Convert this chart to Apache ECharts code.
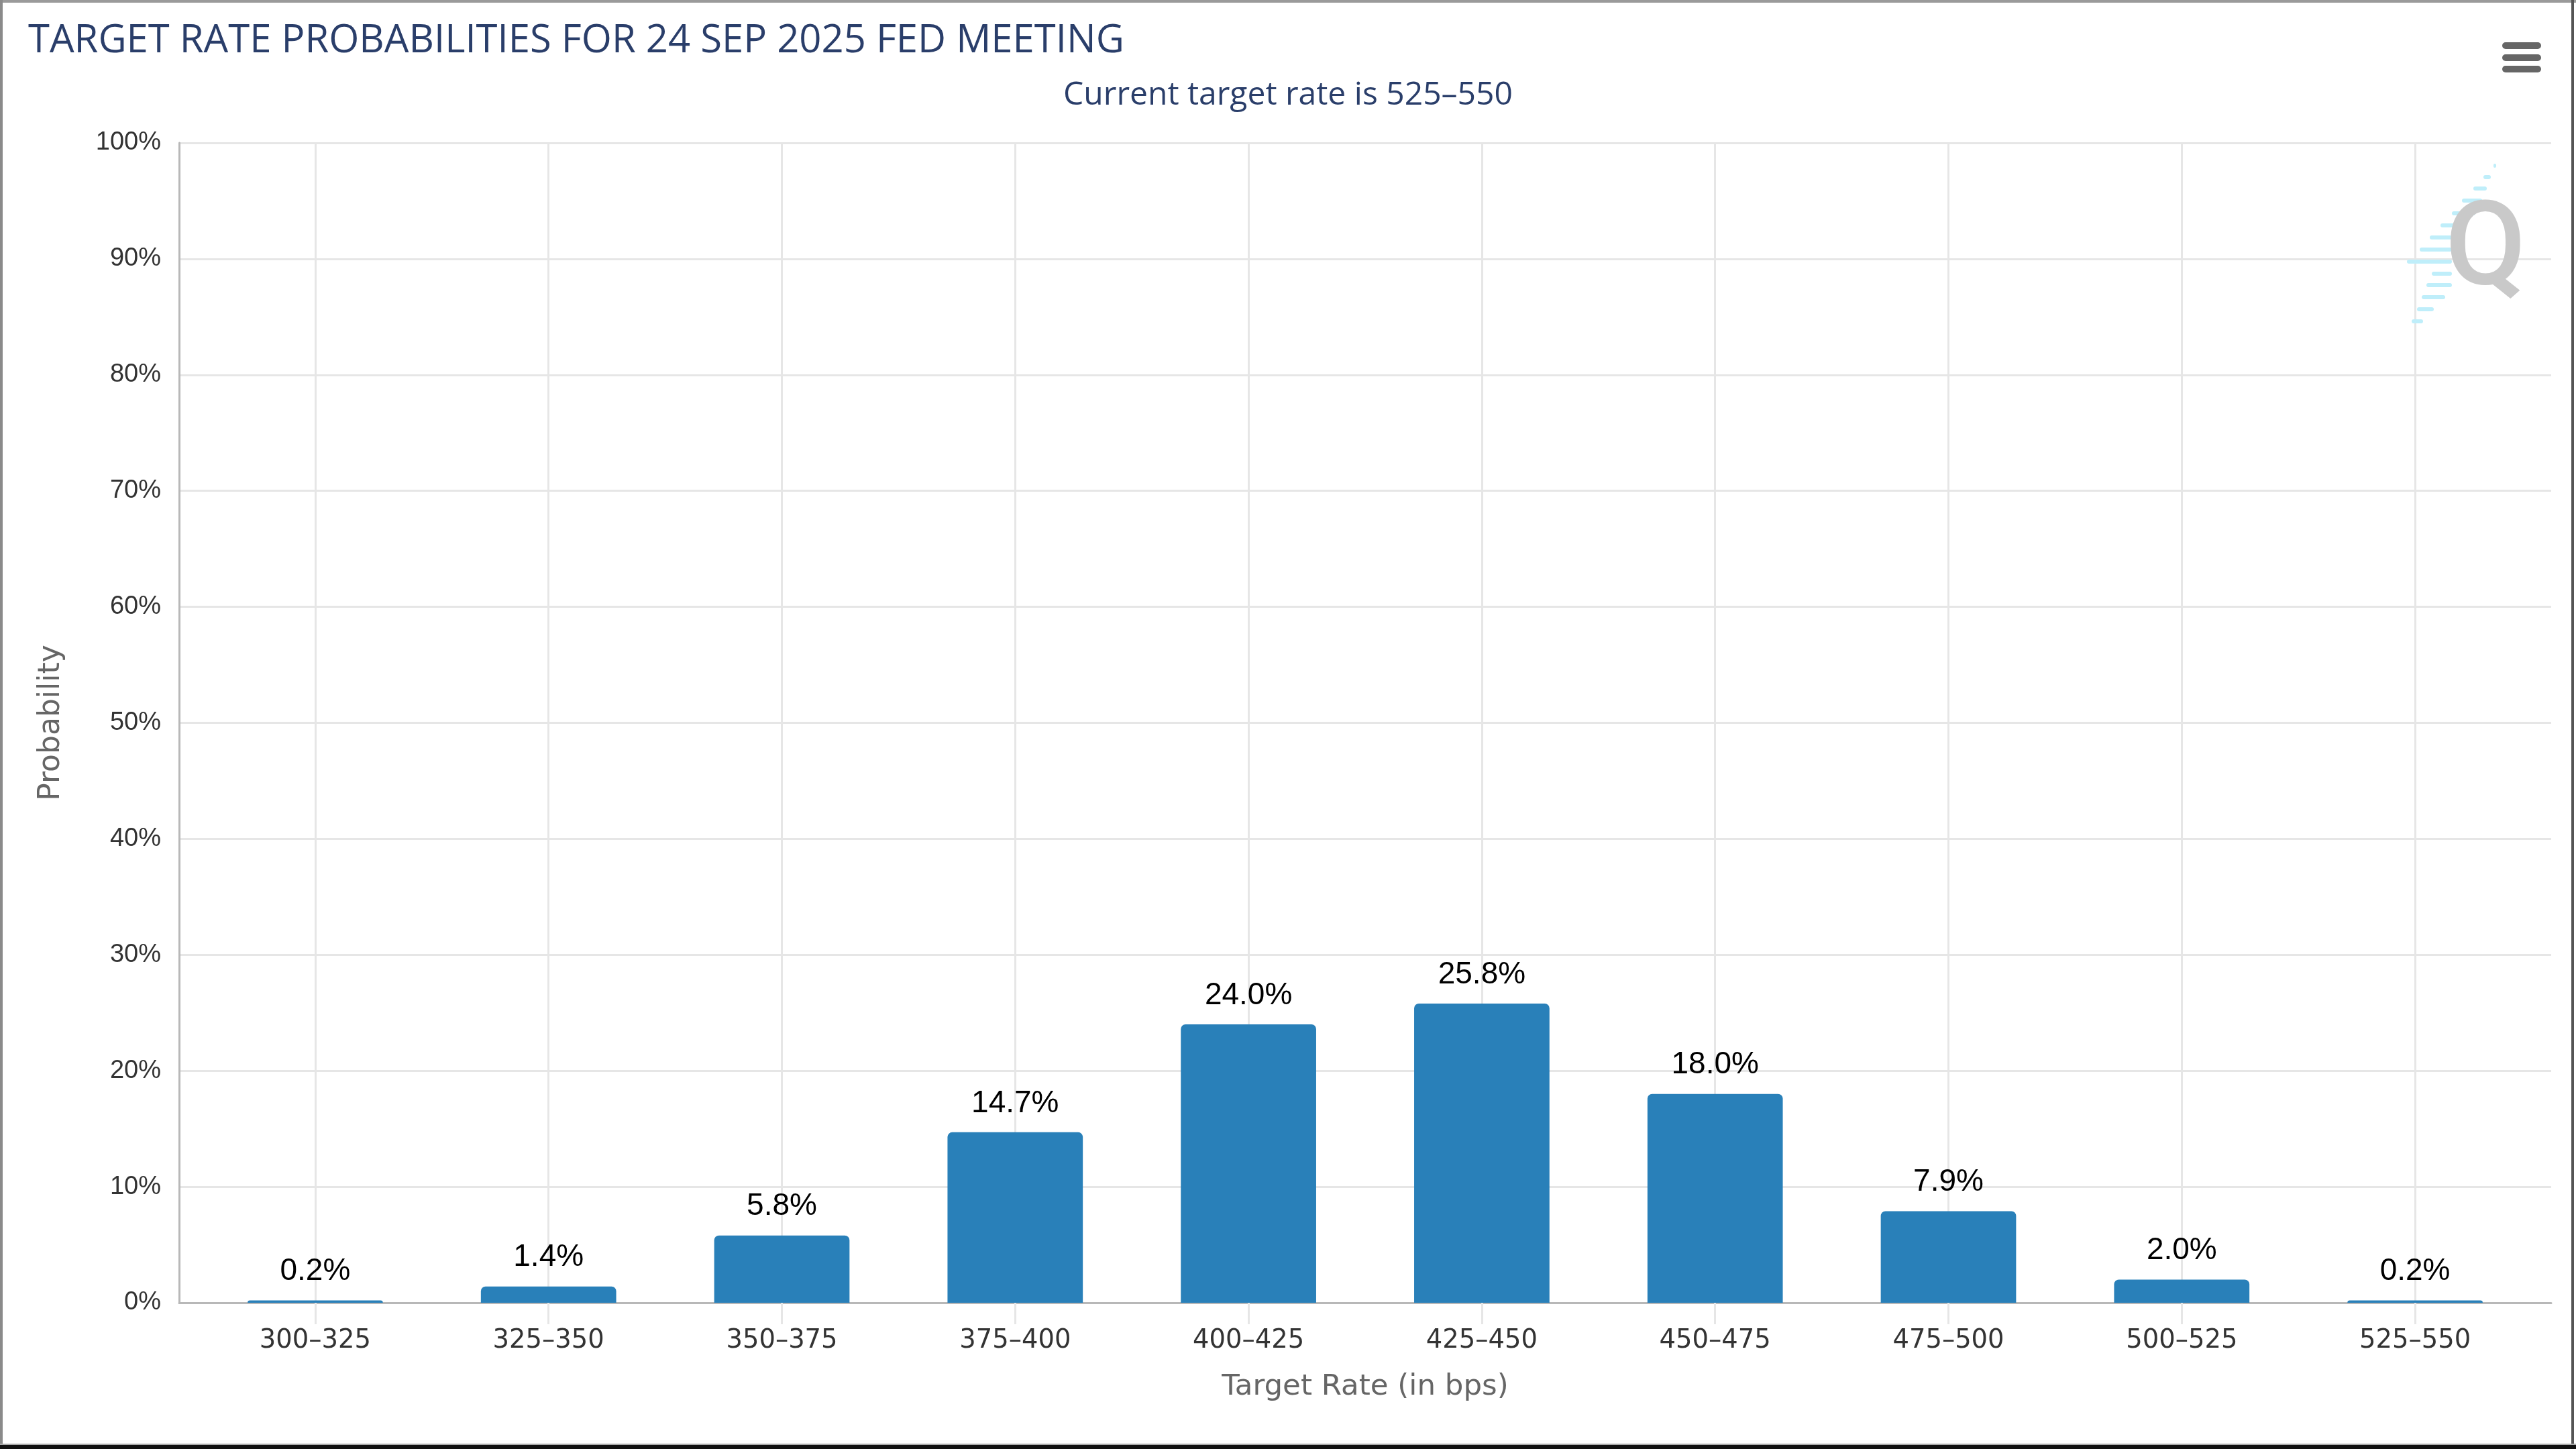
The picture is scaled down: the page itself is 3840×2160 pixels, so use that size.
<!DOCTYPE html>
<html>
<head>
<meta charset="utf-8">
<script src="https://cdn.jsdelivr.net/npm/echarts@6/dist/echarts.min.js"></script>
<style>
html,body{margin:0;padding:0;background:#fff;}
#chart{width:3840px;height:2160px;}
</style>
</head>
<body>
<div id="chart"></div>
<script>
// ---- data ----
const categories = ['300–325','325–350','350–375','375–400','400–425','425–450','450–475','475–500','500–525','525–550'];
const probabilities = [0.2, 1.4, 5.8, 14.7, 24.0, 25.8, 18.0, 7.9, 2.0, 0.2];
const titleText = 'TARGET RATE PROBABILITIES FOR 24 SEP 2025 FED MEETING';
const subtitleText = 'Current target rate is 525–550';
const xAxisName = 'Target Rate (in bps)';
const yAxisName = 'Probability';

const W = 3840, H = 2160;
const plotL = 267, plotR = 3803, plotT = 213, plotB = 1942;
const innerL = 296, innerR = 3774;
const catW = (innerR - innerL) / categories.length;

const chart = echarts.init(document.getElementById('chart'), null, {renderer: 'canvas'});

const gridColor = '#e6e6e6';
const axisColor = '#b8b8b8';

// watermark dashes (decoration)
const dashRows = [
  [247,3717,3721],[264,3702,3713],[281,3687,3707],[299,3670,3700],[318,3655,3690],
  [336,3638,3660],[354,3622,3655],[372,3607,3655],[390,3588,3655],[408,3625,3655],
  [425,3617,3655],[443,3610,3645],[461,3603,3628],[479,3595,3612]
];
const wm = dashRows.map(r => ({
  type: 'rect', shape: {x: r[1], y: r[0]-3, width: r[2]-r[1], height: 6, r: 3},
  style: {fill: '#bfeefa'}, z: 1, silent: true
}));

const option = {
  backgroundColor: '#fff',
  animation: false,
  title: [
    {text: titleText, left: 37, top: 27,
     textStyle: {fontFamily: 'Open Sans, sans-serif', fontSize: 58, fontWeight: 'normal', color: '#2a3e6a'}},
    {text: subtitleText, left: 'center', top: 113,
     textStyle: {fontFamily: 'Open Sans, sans-serif', fontSize: 48, fontWeight: 'normal', color: '#2a3e6a'}}
  ],
  grid: [
    {left: plotL, right: W - plotR, top: plotT, bottom: H - plotB, containLabel: false},
    {left: innerL, right: W - innerR, top: plotT, bottom: H - plotB, containLabel: false},
    {left: innerL + catW/2, right: W - innerR + catW/2, top: plotT, bottom: H - plotB, containLabel: false}
  ],
  xAxis: [
    {gridIndex: 0, type: 'value', min: 0, max: 1,
     axisLine: {show: true, onZero: false, lineStyle: {color: axisColor, width: 3}},
     axisTick: {show: false}, axisLabel: {show: false}, splitLine: {show: false}},
    {gridIndex: 1, type: 'category', data: categories, boundaryGap: true,
     axisLine: {show: false}, axisTick: {show: false}, splitLine: {show: false},
     axisLabel: {show: true, margin: 37, color: '#333',
       fontFamily: 'DejaVu Sans, sans-serif', fontSize: 38.5},
     name: xAxisName, nameLocation: 'middle', nameGap: 104,
     nameTextStyle: {color: '#666', fontFamily: 'DejaVu Sans, sans-serif', fontSize: 43.5}},
    {gridIndex: 2, type: 'category', data: categories, boundaryGap: false,
     axisLine: {show: false}, axisLabel: {show: false},
     axisTick: {show: true, length: 32, lineStyle: {color: gridColor, width: 3}},
     splitLine: {show: true, lineStyle: {color: gridColor, width: 3}}}
  ],
  yAxis: [
    {gridIndex: 0, type: 'value', min: 0, max: 100, interval: 10,
     axisLine: {show: true, lineStyle: {color: axisColor, width: 3}},
     axisTick: {show: false},
     axisLabel: {formatter: '{value}%', margin: 27, color: '#333',
       fontFamily: 'Liberation Sans Narrow, Liberation Sans, sans-serif', fontSize: 38},
     splitLine: {show: true, lineStyle: {color: gridColor, width: 3}},
     name: yAxisName, nameLocation: 'middle', nameGap: 168, nameRotate: 90,
     nameTextStyle: {color: '#666', fontFamily: 'DejaVu Sans, sans-serif', fontSize: 44}},
    {gridIndex: 1, type: 'value', min: 0, max: 100, show: false},
    {gridIndex: 2, type: 'value', min: 0, max: 100, show: false}
  ],
  series: [{
    type: 'bar', xAxisIndex: 1, yAxisIndex: 1,
    data: probabilities, barWidth: '58%', z: 3,
    itemStyle: {color: '#2980b9', borderRadius: [7, 7, 0, 0]},
    label: {show: true, position: 'top', distance: 20, color: '#000',
      fontFamily: 'Liberation Sans, Arial, sans-serif', fontSize: 46,
      formatter: p => p.value.toFixed(1) + '%'}
  }],
  graphic: [
    ...wm,
    {type: 'text', left: 3645, top: 292, z: 2, silent: true,
     style: {text: 'Q', fontFamily: 'Roboto, sans-serif', fontWeight: 500, fontSize: 175, fill: '#c9c9c9'}},
    // menu icon
    {type: 'rect', shape: {x: 3730, y: 63, width: 58, height: 10, r: 5}, style: {fill: '#666'}},
    {type: 'rect', shape: {x: 3730, y: 81, width: 58, height: 10, r: 5}, style: {fill: '#666'}},
    {type: 'rect', shape: {x: 3730, y: 98, width: 58, height: 10, r: 5}, style: {fill: '#666'}},
    // frame
    {type: 'rect', shape: {x: 0, y: 0, width: W, height: 4}, style: {fill: '#9a9a9a'}, z: 10},
    {type: 'rect', shape: {x: 0, y: 0, width: 4, height: H}, style: {fill: '#8a8a8a'}, z: 10},
    {type: 'rect', shape: {x: 3833, y: 0, width: 4, height: H}, style: {fill: '#555'}, z: 10},
    {type: 'rect', shape: {x: 0, y: 2152, width: W, height: 2}, style: {fill: '#aaa'}, z: 10},
    {type: 'rect', shape: {x: 0, y: 2154, width: W, height: 6}, style: {fill: '#111'}, z: 10}
  ]
};
chart.setOption(option);
</script>
</body>
</html>
